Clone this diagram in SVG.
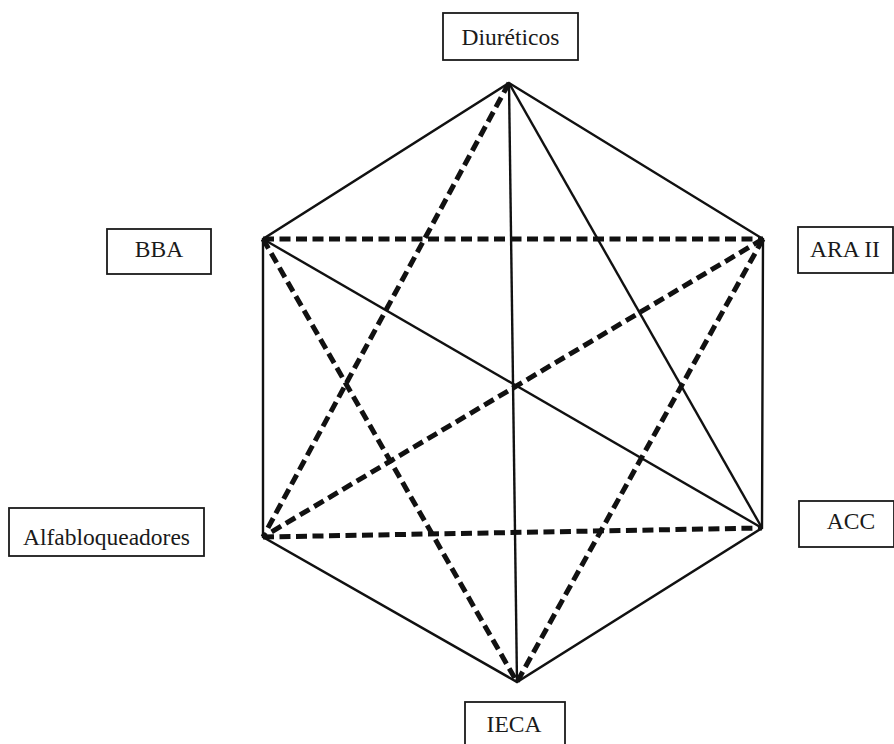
<svg xmlns="http://www.w3.org/2000/svg" width="894" height="744" viewBox="0 0 894 744">
<style>
.box{fill:#fff;stroke:#1a1a1a;stroke-width:1.8}
.lbl{font-family:"Liberation Serif","Times New Roman",serif;font-size:23.5px;fill:#1a1a1a;text-anchor:middle}
.solid{stroke:#111;stroke-width:2.4;fill:none}
.dash{stroke:#111;stroke-width:5;fill:none;stroke-dasharray:11 5.5}
</style>
<rect width="894" height="744" fill="#fff"/>
<g id="connectors">
<polygon class="solid" points="509,83 763,239 762,528 517,682 263,537 263,239" stroke-linejoin="miter"/>
<line class="solid" x1="509" y1="83" x2="517" y2="682"/>
<line class="solid" x1="509" y1="83" x2="762" y2="528"/>
<line class="solid" x1="263" y1="239" x2="762" y2="528"/>
<line class="dash" x1="263" y1="239" x2="763" y2="239"/>
<line class="dash" x1="263" y1="537" x2="762" y2="528"/>
<line class="dash" x1="509" y1="83" x2="263" y2="537"/>
<line class="dash" x1="763" y1="239" x2="263" y2="537"/>
<line class="dash" x1="263" y1="239" x2="517" y2="682"/>
<line class="dash" x1="763" y1="239" x2="517" y2="682"/>
</g>
<g id="diureticos"><rect class="box" x="443" y="13" width="135" height="47"/><text class="lbl" x="510.5" y="45">Diuréticos</text></g>
<g id="bba"><rect class="box" x="107" y="229" width="104" height="45"/><text class="lbl" x="159" y="257">BBA</text></g>
<g id="ara2"><rect class="box" x="798" y="227" width="95" height="46"/><text class="lbl" x="845" y="257">ARA II</text></g>
<g id="alfabloqueadores"><rect class="box" x="9" y="508" width="195" height="48"/><text class="lbl" x="106.5" y="545">Alfabloqueadores</text></g>
<g id="acc"><rect class="box" x="799" y="501" width="95" height="46"/><text class="lbl" x="851" y="529">ACC</text></g>
<g id="ieca"><rect class="box" x="465" y="702" width="100" height="46"/><text class="lbl" x="514" y="732">IECA</text></g>
</svg>
